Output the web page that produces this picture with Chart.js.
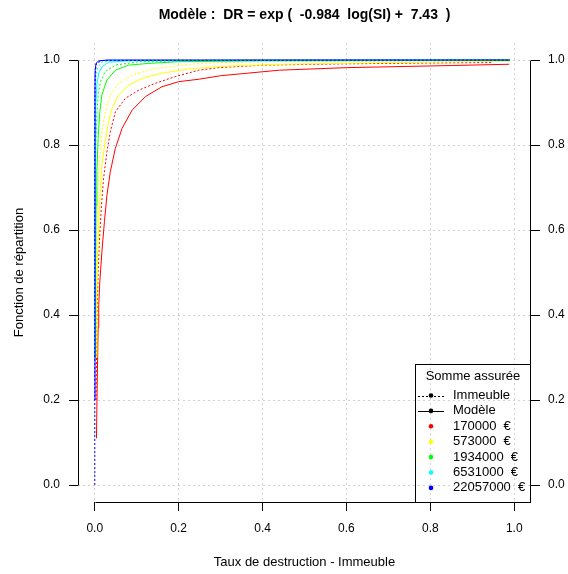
<!DOCTYPE html>
<html>
<head>
<meta charset="utf-8">
<script src="https://cdn.jsdelivr.net/npm/chart.js@4.4.1/dist/chart.umd.min.js"></script>
<style>
  body { margin: 0; background: #fff; }
</style>
</head>
<body>
<canvas id="chartCdf" width="568" height="574"></canvas>
<script>
// tick labels
const xTicks = [0, 0.2, 0.4, 0.6, 0.8, 1.0];
const yTicks = [0, 0.2, 0.4, 0.6, 0.8, 1.0];

// sums insured (legend)
const sumsInsured = ['170000', '573000', '1934000', '6531000', '22057000'];

// "Modèle" curves (solid)
const model170000X = [0.004, 0.006, 0.008, 0.0095, 0.012, 0.017, 0.023, 0.029, 0.037, 0.049, 0.065, 0.089, 0.121, 0.16, 0.2, 0.25, 0.3, 0.44, 0.6, 0.85, 0.988];
const model170000Y = [0.11, 0.25, 0.37, 0.424, 0.478, 0.549, 0.62, 0.682, 0.737, 0.792, 0.839, 0.882, 0.914, 0.937, 0.949, 0.955, 0.963, 0.976, 0.982, 0.987, 0.99];
const model573000X = [0.003, 0.005, 0.007, 0.0095, 0.0135, 0.017, 0.025, 0.033, 0.041, 0.057, 0.081, 0.113, 0.16, 0.224, 0.3, 0.45, 0.7, 0.99];
const model573000Y = [0.3, 0.45, 0.541, 0.62, 0.698, 0.753, 0.808, 0.855, 0.886, 0.918, 0.941, 0.957, 0.969, 0.979, 0.985, 0.99, 0.994, 0.997];
const model1934000X = [0.001, 0.002, 0.003, 0.005, 0.008, 0.012, 0.017, 0.029, 0.049, 0.081, 0.129, 0.2, 0.4, 0.99];
const model1934000Y = [0.3, 0.5, 0.659, 0.737, 0.816, 0.878, 0.918, 0.953, 0.976, 0.988, 0.992, 0.996, 0.998, 0.999];
const model6531000X = [0.0005, 0.001, 0.0024, 0.005, 0.0095, 0.017, 0.033, 0.081, 0.3, 0.99];
const model6531000Y = [0.3, 0.816, 0.894, 0.941, 0.969, 0.984, 0.995, 0.998, 0.999, 1.0];
const model22057000X = [0.0002, 0.0005, 0.001, 0.003, 0.0095, 0.03, 0.99];
const model22057000Y = [0.2, 0.94, 0.976, 0.992, 0.998, 1.0, 1.0];

// "Immeuble" curves (dotted)
const bldg170000X = [0.003, 0.005, 0.008, 0.011, 0.016, 0.021, 0.029, 0.037, 0.049, 0.073, 0.105, 0.144, 0.192, 0.248, 0.295, 0.403, 0.6, 0.8, 0.947];
const bldg170000Y = [0.2, 0.38, 0.502, 0.573, 0.659, 0.722, 0.784, 0.831, 0.878, 0.91, 0.929, 0.945, 0.961, 0.976, 0.982, 0.988, 0.991, 0.993, 0.994];
const bldg573000X = [0.002, 0.003, 0.005, 0.007, 0.011, 0.017, 0.025, 0.037, 0.057, 0.089, 0.144, 0.224, 0.3, 0.5, 0.99];
const bldg573000Y = [0.3, 0.45, 0.605, 0.682, 0.761, 0.831, 0.878, 0.918, 0.945, 0.965, 0.98, 0.99, 0.994, 0.997, 0.998];
const bldg1934000X = [0.001, 0.0015, 0.0024, 0.005, 0.008, 0.0135, 0.025, 0.049, 0.105, 0.3, 0.99];
const bldg1934000Y = [0.3, 0.55, 0.792, 0.871, 0.918, 0.949, 0.973, 0.988, 0.996, 0.999, 1.0];
const bldg6531000X = [0.0003, 0.001, 0.003, 0.008, 0.017, 0.05, 0.99];
const bldg6531000Y = [0.3, 0.918, 0.965, 0.984, 0.995, 0.999, 1.0];
const bldg22057000X = [0, 0.0003, 0.001, 0.004, 0.02, 0.99];
const bldg22057000Y = [0, 0.9, 0.97, 0.993, 0.999, 1.0];

const colors = ['#FF0000', '#FFFF00', '#00FF00', '#00FFFF', '#0000FF'];
const modelX = [model170000X, model573000X, model1934000X, model6531000X, model22057000X];
const modelY = [model170000Y, model573000Y, model1934000Y, model6531000Y, model22057000Y];
const bldgX = [bldg170000X, bldg573000X, bldg1934000X, bldg6531000X, bldg22057000X];
const bldgY = [bldg170000Y, bldg573000Y, bldg1934000Y, bldg6531000Y, bldg22057000Y];

function toPoints(xs, ys) {
    return xs.map((x, i) => ({ x: x, y: ys[i] }));
}

// blue first so it ends up on top
var datasets = [];
for (let i = colors.length - 1; i >= 0; i--) {
    datasets.push({
        label: 'Immeuble ' + sumsInsured[i],
        data: toPoints(bldgX[i], bldgY[i]),
        showLine: true,
        borderColor: colors[i],
        borderDash: [2, 2],
        borderWidth: 1,
        pointRadius: 0
    });
    datasets.push({
        label: 'Modèle ' + sumsInsured[i],
        data: toPoints(modelX[i], modelY[i]),
        showLine: true,
        borderColor: colors[i],
        borderWidth: 1,
        pointRadius: 0
    });
}

const FONT = 'Liberation Sans, Arial, sans-serif';

// R-like look: short axis lines, titles, legend box
const rDecor = {
    id: 'rDecor',
    afterDraw(chart) {
        const ctx = chart.ctx;
        const area = chart.chartArea;
        const sx = chart.scales.x, sy = chart.scales.y;
        ctx.save();
        ctx.strokeStyle = '#000';
        ctx.lineWidth = 1;
        ctx.setLineDash([]);
        ctx.beginPath();
        // left axis
        ctx.moveTo(area.left + 0.5, Math.round(sy.getPixelForValue(0)) + 0.5);
        ctx.lineTo(area.left + 0.5, Math.round(sy.getPixelForValue(1)) + 0.5);
        // right axis
        ctx.moveTo(area.right - 0.5, Math.round(sy.getPixelForValue(0)) + 0.5);
        ctx.lineTo(area.right - 0.5, Math.round(sy.getPixelForValue(1)) + 0.5);
        // bottom axis
        ctx.moveTo(Math.round(sx.getPixelForValue(0)) + 0.5, area.bottom + 0.5);
        ctx.lineTo(Math.round(sx.getPixelForValue(1)) + 0.5, area.bottom + 0.5);
        ctx.stroke();

        const cx = (area.left + area.right) / 2;
        ctx.fillStyle = '#000';
        ctx.textAlign = 'center';
        ctx.textBaseline = 'middle';
        ctx.font = 'bold 14px ' + FONT;
        ctx.fillText('Modèle :  DR = exp (  -0.984  log(SI) +  7.43  )', cx, 15);
        ctx.font = '13px ' + FONT;
        ctx.fillText('Taux de destruction - Immeuble', cx, 562);
        ctx.save();
        ctx.translate(19, (area.top + area.bottom) / 2);
        ctx.rotate(-Math.PI / 2);
        ctx.fillText('Fonction de répartition', 0, 0);
        ctx.restore();

        // legend
        const lx = 415.5, ly = 364.5, lw = area.right - 0.5 - lx, lh = area.bottom + 0.5 - ly;
        ctx.strokeRect(lx, ly, lw, lh);
        ctx.font = '13px ' + FONT;
        ctx.fillText('Somme assurée', lx + lw / 2, 376);
        const rows = ['Immeuble', 'Modèle'].concat(sumsInsured.map(s => s + '  €'));
        const symX = 431, textX = 453;
        rows.forEach((txt, i) => {
            const y = 395.5 + i * 15.4;
            ctx.textAlign = 'left';
            ctx.fillStyle = '#000';
            ctx.fillText(txt, textX, y);
            if (i < 2) {
                ctx.setLineDash(i === 0 ? [2, 2] : []);
                ctx.beginPath();
                ctx.moveTo(418, Math.round(y) + 0.5);
                ctx.lineTo(444, Math.round(y) + 0.5);
                ctx.stroke();
                ctx.setLineDash([]);
                ctx.fillStyle = '#000';
            } else {
                ctx.fillStyle = colors[i - 2];
            }
            ctx.beginPath();
            ctx.arc(symX, y, 2.3, 0, Math.PI * 2);
            ctx.fill();
        });
        ctx.restore();
    }
};

function tickList(values) {
    return scale => { scale.ticks = values.map(v => ({ value: v })); };
}

const gridOpts = {
    color: '#D3D3D3',
    tickColor: '#000',
    tickLength: 9,
    tickWidth: 1,
    tickBorderDash: []
};

const ctx = document.getElementById('chartCdf').getContext('2d');
const cdfChart = new Chart(ctx, {
    type: 'scatter',
    data: { datasets: datasets },
    options: {
        responsive: false,
        animation: false,
        layout: { padding: { top: 43, left: 0, right: 0, bottom: 0 } },
        plugins: {
            legend: { display: false },
            tooltip: { enabled: false }
        },
        elements: {
            line: { tension: 0 }
        },
        scales: {
            x: {
                type: 'linear',
                min: -0.04,
                max: 1.04,
                afterBuildTicks: tickList(xTicks),
                afterFit: s => { s.height = 72; },
                grid: gridOpts,
                border: { display: false, dash: [2, 3] },
                ticks: {
                    padding: 10,
                    maxRotation: 0,
                    color: '#000',
                    font: { family: FONT, size: 12 },
                    callback: v => v.toFixed(1)
                }
            },
            y: {
                type: 'linear',
                min: -0.04,
                max: 1.04,
                afterBuildTicks: tickList(yTicks),
                afterFit: s => { s.width = 78; },
                grid: gridOpts,
                border: { display: false, dash: [2, 3] },
                ticks: {
                    padding: 9,
                    color: '#000',
                    font: { family: FONT, size: 12 },
                    callback: v => v.toFixed(1)
                }
            },
            y2: {
                type: 'linear',
                position: 'right',
                min: -0.04,
                max: 1.04,
                afterBuildTicks: tickList(yTicks),
                afterFit: s => { s.width = 37; },
                grid: Object.assign({}, gridOpts, { drawOnChartArea: false }),
                border: { display: false },
                ticks: {
                    padding: 8,
                    color: '#000',
                    font: { family: FONT, size: 12 },
                    callback: v => v.toFixed(1)
                }
            }
        }
    },
    plugins: [rDecor]
});
</script>
</body>
</html>
